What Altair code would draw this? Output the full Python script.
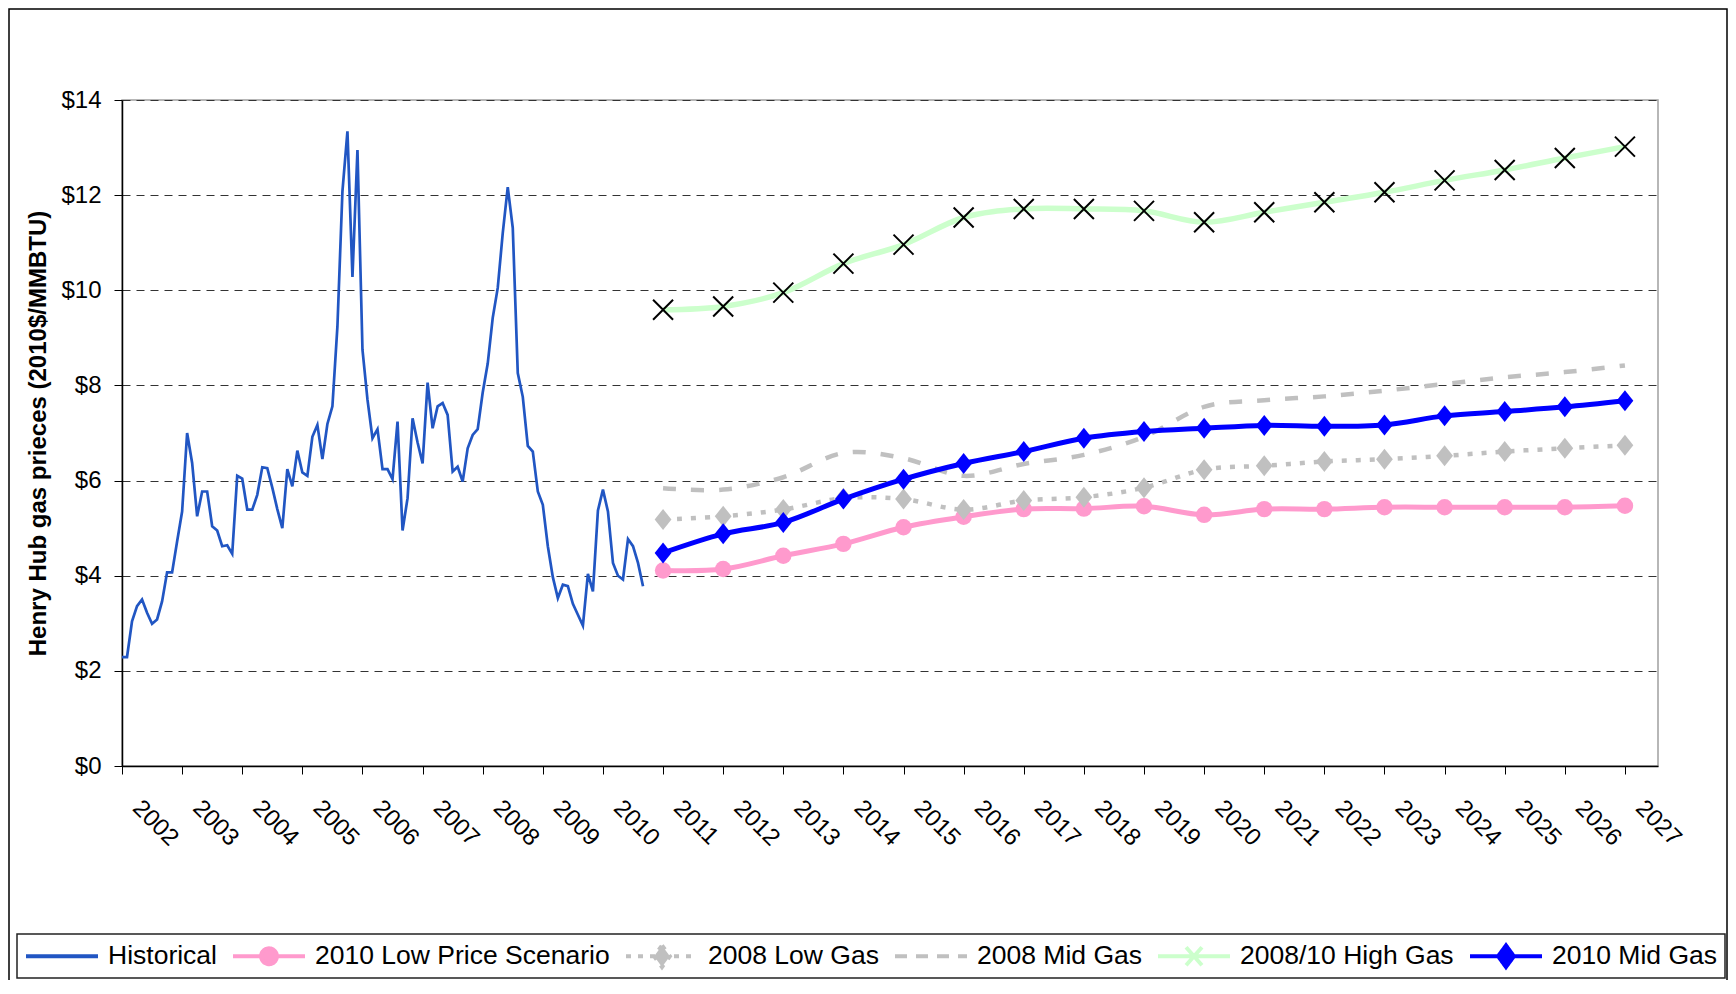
import altair as alt
import pandas as pd

# ---------------- data ----------------
hist_values = [
    2.29, 2.29, 3.04, 3.36, 3.50, 3.22, 2.99, 3.08, 3.46, 4.07, 4.07, 4.72,
    5.35, 7.00, 6.37, 5.25, 5.77, 5.77, 5.04, 4.95, 4.62, 4.64, 4.46, 6.10,
    6.04, 5.39, 5.39, 5.70, 6.28, 6.26, 5.85, 5.40, 5.00, 6.24, 5.88, 6.63,
    6.17, 6.10, 6.92, 7.17, 6.45, 7.19, 7.56, 9.24, 12.08, 13.34, 10.28, 12.95,
    8.75, 7.70, 6.89, 7.08, 6.24, 6.24, 6.03, 7.24, 4.95, 5.63, 7.31, 6.80,
    6.36, 8.06, 7.10, 7.56, 7.63, 7.38, 6.19, 6.29, 5.98, 6.68, 6.96, 7.08,
    7.85, 8.46, 9.42, 10.05, 11.20, 12.17, 11.31, 8.26, 7.76, 6.73, 6.61, 5.77,
    5.49, 4.62, 3.97, 3.53, 3.81, 3.78, 3.41, 3.18, 2.95, 4.04, 3.67, 5.37,
    5.81, 5.35, 4.27, 4.00, 3.92, 4.77, 4.62, 4.27, 3.78,
]
hist_start_year = 2002

forecast_years = list(range(2011, 2028))
low_2010 = [4.11, 4.14, 4.42, 4.67, 5.02, 5.24, 5.40, 5.41, 5.46, 5.28, 5.40, 5.40, 5.44, 5.44, 5.44, 5.44, 5.47]
low_2008 = [5.18, 5.25, 5.39, 5.63, 5.61, 5.39, 5.58, 5.65, 5.85, 6.23, 6.31, 6.40, 6.45, 6.52, 6.61, 6.68, 6.74]
mid_2008 = [5.84, 5.81, 6.07, 6.58, 6.47, 6.10, 6.35, 6.54, 6.92, 7.55, 7.69, 7.77, 7.89, 8.03, 8.17, 8.28, 8.42]
high_0810 = [9.59, 9.66, 9.95, 10.56, 10.96, 11.53, 11.71, 11.71, 11.67, 11.43, 11.64, 11.85, 12.06, 12.31, 12.53, 12.78, 13.02]
mid_2010 = [4.48, 4.88, 5.12, 5.61, 6.03, 6.36, 6.61, 6.89, 7.03, 7.10, 7.16, 7.14, 7.17, 7.36, 7.45, 7.55, 7.68]

series_names = ["Historical", "2010 Low Price Scenario", "2008 Low Gas",
                "2008 Mid Gas", "2008/10 High Gas", "2010 Mid Gas"]
y_ticks = [0, 2, 4, 6, 8, 10, 12, 14]
x_ticks = list(range(2002, 2028))

# ---------------- styles ----------------
C_HIST = "#2156C3"
C_PINK = "#FF9ACD"
C_GRAY = "#C0C0C0"
C_GREEN = "#CCFFCC"
C_BLUE = "#0000FF"

W, H = 1536, 666
PAD_L, PAD_T = 114, 92
TOTAL_W, TOTAL_H = 1720, 972

hist_df = pd.DataFrame({
    "year": [hist_start_year + i / 12 for i in range(len(hist_values))],
    "value": hist_values,
})


def fdf(vals):
    return pd.DataFrame({"year": forecast_years, "value": vals})


x_axis = alt.Axis(values=x_ticks, format="d", labelAngle=45, labelAlign="left",
                  labelBaseline="middle", labelPadding=30, labelOffset=14,
                  labelFontSize=24, labelFlush=False, labelOverlap=False,
                  labelBound=False, labelColor="black", tickSize=8,
                  tickColor="black", domainColor="black", domainWidth=1.5,
                  grid=False, title=None)
y_axis = alt.Axis(values=y_ticks, labelExpr="'$' + datum.value", labelFontSize=24,
                  labelPadding=13, labelColor="black", tickSize=8, tickColor="black",
                  domainColor="black", domainWidth=1.5, grid=True,
                  gridColor="#333333", gridDash=[8, 6], gridWidth=1,
                  title="Henry Hub gas prieces (2010$/MMBTU)", titleFontSize=24,
                  titleFontWeight="bold", titleColor="black", titlePadding=10)

x_enc = alt.X("year:Q", scale=alt.Scale(domain=[2002, 2027.55], nice=False, zero=False), axis=x_axis)
y_enc = alt.Y("value:Q", scale=alt.Scale(domain=[0, 14], nice=False, zero=True), axis=y_axis)


def line(df, color, width, dash=None, smooth=True):
    kw = dict(color=color, strokeWidth=width, clip=False)
    if dash:
        kw["strokeDash"] = dash
    if smooth:
        kw["interpolate"] = "cardinal"
    return alt.Chart(df).mark_line(**kw).encode(x=x_enc, y=y_enc)


def points(df, **kw):
    return alt.Chart(df).mark_point(opacity=1, **kw).encode(x=x_enc, y=y_enc)


X_PATH = "M-1,-1L1,1M-1,1L1,-1"
DIAMOND_PATH = "M0,-1L0.8,0L0,1L-0.8,0Z"

hist_line = line(hist_df, C_HIST, 2.7, smooth=False)
low10_line = line(fdf(low_2010), C_PINK, 5)
low10_pts = points(fdf(low_2010), shape="circle", filled=True, size=270, color=C_PINK)
low08_line = line(fdf(low_2008), C_GRAY, 4.5, dash=[5, 9])
low08_pts = points(fdf(low_2008), shape=DIAMOND_PATH, filled=True, size=441, color=C_GRAY)
mid08_line = line(fdf(mid_2008), C_GRAY, 4.5, dash=[13, 15])
high_line = line(fdf(high_0810), C_GREEN, 5.5)
high_pts = points(fdf(high_0810), shape=X_PATH, filled=False, size=400, color="black", strokeWidth=2)
mid10_line = line(fdf(mid_2010), C_BLUE, 5)
mid10_pts = points(fdf(mid_2010), shape=DIAMOND_PATH, filled=True, size=441, color=C_BLUE)

# legend (built from an empty layer whose scales carry the series styles)
legend_colors = [C_HIST, C_PINK, C_GRAY, C_GRAY, C_GREEN, C_BLUE]
EXT = "M0,-0.32M0,0.32"  # same vertical extent for every legend symbol
legend_paths = [
    EXT + "M-1,0L1,0",
    EXT + "M-1,0L1,0M0.22,0A0.22,0.22,0,1,1,-0.22,0A0.22,0.22,0,1,1,0.22,0Z",
    EXT + "M-1,0L1,0M0,-0.3L0.22,0L0,0.3L-0.22,0Z",
    EXT + "M-1,0L1,0",
    EXT + "M-1,0L1,0M-0.22,-0.25L0.22,0.25M-0.22,0.25L0.22,-0.25",
    EXT + "M-1,0L1,0M0,-0.3L0.22,0L0,0.3L-0.22,0Z",
]
legend_dashes = [[1, 0], [1, 0], [5, 7], [12, 9], [1, 0], [1, 0]]
legend_df = pd.DataFrame({"series": series_names, "year": [2002] * 6, "value": [-1] * 6})
leg = alt.Legend(title=None)
legend_layer = alt.Chart(legend_df).mark_point(filled=True, opacity=1).encode(
    x=x_enc, y=y_enc,
    fill=alt.Fill("series:N", scale=alt.Scale(domain=series_names, range=legend_colors), legend=leg),
    stroke=alt.Stroke("series:N", scale=alt.Scale(domain=series_names, range=legend_colors), legend=leg),
    shape=alt.Shape("series:N", scale=alt.Scale(domain=series_names, range=legend_paths), legend=leg),
    strokeDash=alt.StrokeDash("series:N", scale=alt.Scale(domain=series_names, range=legend_dashes), legend=leg),
).transform_filter("datum.value >= 0")

# outer frame: top/left/right only (bottom edge lies below the picture)
frame = alt.Chart(pd.DataFrame({"k": [0]})).mark_rect(
    fillOpacity=0, stroke="black", strokeWidth=1.5
).encode(
    x=alt.value(-PAD_L + 1), x2=alt.value(TOTAL_W - PAD_L - 1),
    y=alt.value(-PAD_T + 1), y2=alt.value(TOTAL_H - PAD_T + 20),
)

legend_box = alt.Chart(pd.DataFrame({"k": [0]})).mark_rect(
    fillOpacity=0, stroke="#222222", strokeWidth=1.5
).encode(
    x=alt.value(-105), x2=alt.value(1603),
    y=alt.value(834), y2=alt.value(878),
)

chart = alt.layer(
    frame, legend_box, hist_line, low10_line, low10_pts, low08_line, low08_pts, mid08_line,
    high_line, high_pts, mid10_line, mid10_pts, legend_layer,
).properties(
    width=W, height=H,
    padding={"left": PAD_L, "top": PAD_T, "right": TOTAL_W - PAD_L - W, "bottom": TOTAL_H - PAD_T - H},
    autosize=alt.AutoSizeParams(type="none"),
).configure(
    font="Liberation Sans", background="white"
).configure_view(
    stroke="#A0A0A0", strokeWidth=1.5
).configure_legend(
    orient="none", legendX=-98, legendY=818, direction="horizontal", columns=6,
    labelFontSize=26.5, labelFont="Liberation Sans", labelColor="black", labelLimit=0,
    symbolSize=5184, symbolStrokeWidth=4, labelOffset=8, columnPadding=8,
    padding=0, symbolOffset=0,
)

chart.save("out.html", embed_options={"renderer": "svg", "actions": False})
